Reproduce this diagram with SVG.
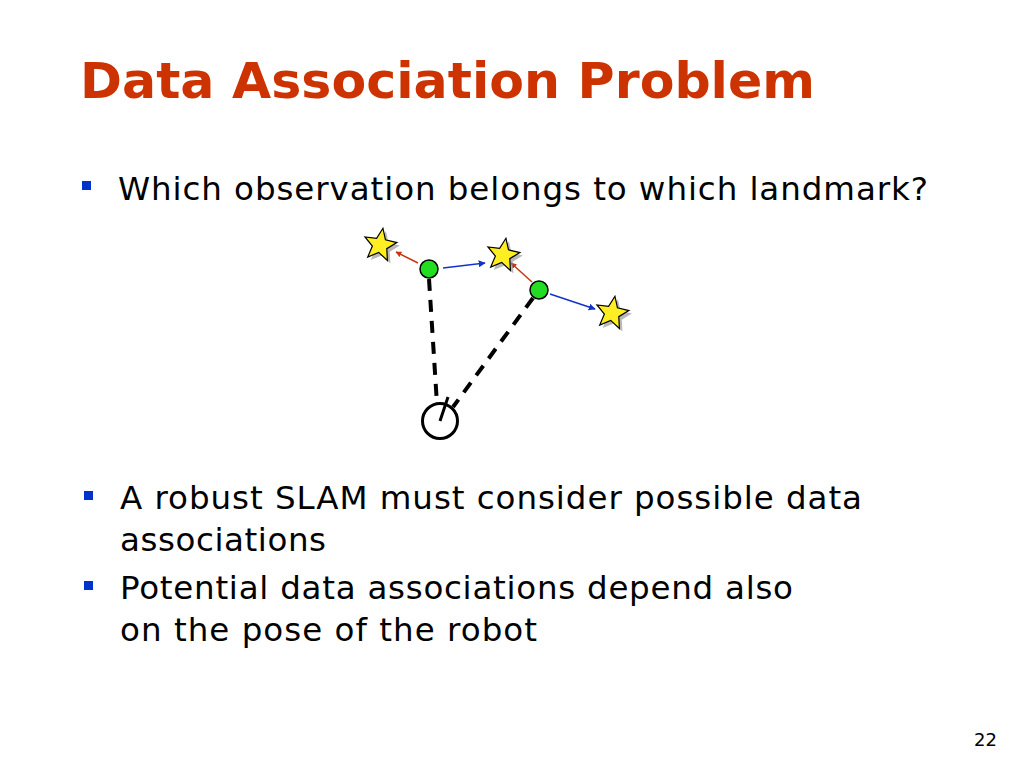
<svg xmlns="http://www.w3.org/2000/svg" width="1024" height="768" viewBox="0 0 1024 768">
<style>
.title{font-family:"DejaVu Sans",Verdana,sans-serif;font-weight:bold;font-size:50px;fill:#CC3300}
.body{font-family:"DejaVu Sans",Verdana,sans-serif;font-size:32.5px;fill:#000}
.bullet{fill:#0033CC}
.dash{stroke:#000;stroke-width:4;stroke-dasharray:12,9;fill:none}
.red{stroke:#CC3311;stroke-width:1.5;fill:none}
.blue{stroke:#1133CC;stroke-width:1.5;fill:none}
.node{fill:#22DD22;stroke:#000;stroke-width:1.5}
.star{fill:#FFEE22;stroke:#000;stroke-width:1.2}
.shadow{fill:#888;opacity:0.6}
</style>
<defs>
<marker id="ar" viewBox="0 0 10 10" refX="9" refY="5" markerWidth="6" markerHeight="6" orient="auto" markerUnits="userSpaceOnUse"><path d="M0,0 L10,5 L0,10 z" fill="#CC3311"/></marker>
<marker id="ab" viewBox="0 0 10 10" refX="9" refY="5" markerWidth="7" markerHeight="7" orient="auto" markerUnits="userSpaceOnUse"><path d="M0,0 L10,5 L0,10 z" fill="#1133CC"/></marker>
<path id="st" d="M0,-17 L4.5,-6 L16.2,-5.3 L7.3,2.4 L10,14 L0,7.5 L-10,14 L-7.3,2.4 L-16.2,-5.3 L-4.5,-6 Z"/>
</defs>
<rect width="1024" height="768" fill="#fff"/>
<text class="title" x="80" y="98" textLength="735" lengthAdjust="spacingAndGlyphs">Data Association Problem</text>
<rect class="bullet" x="82" y="181" width="9" height="9"/>
<text class="body" x="118" y="200" textLength="810">Which observation belongs to which landmark?</text>
<rect class="bullet" x="84" y="491" width="9" height="9"/>
<text class="body" x="120" y="509" textLength="742">A robust SLAM must consider possible data</text>
<text class="body" x="120" y="551" textLength="206">associations</text>
<rect class="bullet" x="84" y="581" width="9" height="9"/>
<text class="body" x="120" y="599" textLength="673">Potential data associations depend also</text>
<text class="body" x="120" y="641" textLength="417">on the pose of the robot</text>
<text x="997" y="746" text-anchor="end" font-family="DejaVu Sans,Verdana,sans-serif" font-size="18" fill="#000">22</text>
<g id="connectors">
<line class="dash" x1="429" y1="279" x2="437" y2="404"/>
<line class="dash" x1="533" y1="298" x2="453" y2="407"/>
<line class="red" x1="418" y1="263" x2="396" y2="252" marker-end="url(#ar)"/>
<line class="blue" x1="443" y1="268" x2="485" y2="263" marker-end="url(#ab)"/>
<line class="red" x1="532" y1="282" x2="511" y2="263" marker-end="url(#ar)"/>
<line class="blue" x1="550" y1="294" x2="595" y2="309" marker-end="url(#ab)"/>
</g>
<g id="star1"><use href="#st" class="shadow" transform="translate(383,248) rotate(10)"/><use href="#st" class="star" transform="translate(380,245) rotate(10)"/></g>
<g id="star2"><use href="#st" class="shadow" transform="translate(506,258) rotate(10)"/><use href="#st" class="star" transform="translate(503,255) rotate(10)"/></g>
<g id="star3"><use href="#st" class="shadow" transform="translate(615,316) rotate(10)"/><use href="#st" class="star" transform="translate(612,313) rotate(10)"/></g>
<g id="node1"><circle class="node" cx="429" cy="269" r="9"/></g>
<g id="node2"><circle class="node" cx="539" cy="290" r="9"/></g>
<g id="robot"><circle cx="440" cy="421" r="17.5" fill="none" stroke="#000" stroke-width="3"/><line x1="440" y1="421" x2="448" y2="397" stroke="#000" stroke-width="3"/></g>
</svg>
